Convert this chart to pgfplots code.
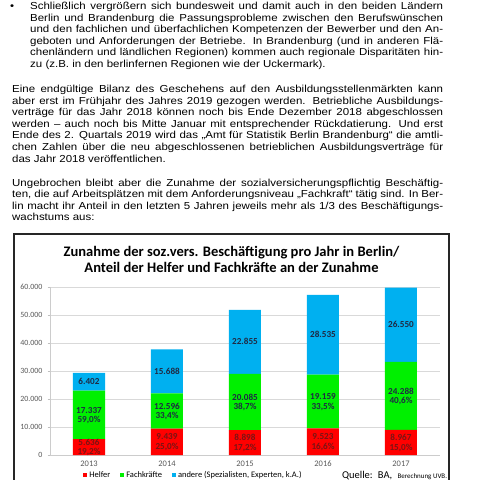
\documentclass[border=0pt]{standalone}
\usepackage{pgfplots}
\pgfplotsset{compat=1.18}
\usepackage{fontspec}
\setmainfont{Liberation Sans}[FakeStretch=1.13]
\newfontfamily\carl{Carlito}
\definecolor{cred}{HTML}{FF0000}
\definecolor{cgreen}{HTML}{00F000}
\definecolor{cblue}{HTML}{00B0F0}
\definecolor{labred}{HTML}{7A1414}
\definecolor{labdark}{HTML}{1F2A44}
\definecolor{tickgray}{HTML}{595959}
\tikzset{barlab/.style={font=\carl\bfseries\fontsize{9.2}{10.3}\selectfont, inner sep=0pt, anchor=center}}
\pgfplotsset{geom/.style={at={(50bp,-455bp)}, anchor=south west,
  scale only axis, width=390bp, height=168bp,
  xmin=-0.5, xmax=4.5, ymin=0, ymax=60000, clip=false}}
% justified line: x, baseline y, width, text
\newcommand\JL[4]{\node[anchor=base west,inner sep=0pt] at (#1bp,-#2bp) {\hbox to #3bp{#4}};}
\newcommand\LL[3]{\node[anchor=base west,inner sep=0pt] at (#1bp,-#2bp) {#3};}
\begin{document}
\begin{tikzpicture}
\path[use as bounding box] (0,0) rectangle (480bp,-480bp);
\clip (0,0) rectangle (480bp,-480bp);
\fill[white] (0,0) rectangle (480bp,-480bp);
\begin{scope}[every node/.style={font=\fontsize{10.2}{12}\selectfont}]
% bullet paragraph
\LL{10}{9.5}{•}
\JL{30}{9.5}{413}{Schließlich vergrößern sich bundesweit und damit auch in den beiden Ländern}
\JL{30}{21.1}{413}{Berlin und Brandenburg die Passungsprobleme zwischen den Berufswünschen}
\JL{30}{32.7}{413}{und den fachlichen und überfachlichen Kompetenzen der Bewerber und den An-}
\JL{30}{44.3}{413}{geboten und Anforderungen der Betriebe. In Brandenburg (und in anderen Flä-}
\JL{30}{55.9}{413}{chenländern und ländlichen Regionen) kommen auch regionale Disparitäten hin-}
\LL{30}{67.5}{zu (z.B. in den berlinfernen Regionen wie der Uckermark).}
% paragraph 2
\JL{12}{92.5}{431}{Eine endgültige Bilanz des Geschehens auf den Ausbildungsstellenmärkten kann}
\JL{12}{104.1}{431}{aber erst im Frühjahr des Jahres 2019 gezogen werden. Betriebliche Ausbildungs-}
\JL{12}{115.7}{431}{verträge für das Jahr 2018 können noch bis Ende Dezember 2018 abgeschlossen}
\JL{12}{127.3}{431}{werden – auch noch bis Mitte Januar mit entsprechender Rückdatierung. Und erst}
\JL{12}{138.9}{431}{Ende des 2. Quartals 2019 wird das „Amt für Statistik Berlin Brandenburg“ die amtli-}
\JL{12}{150.5}{431}{chen Zahlen über die neu abgeschlossenen betrieblichen Ausbildungsverträge für}
\LL{12}{162.1}{das Jahr 2018 veröffentlichen.}
% paragraph 3
\JL{12}{186}{431}{Ungebrochen bleibt aber die Zunahme der sozialversicherungspflichtig Beschäftig-}
\JL{12}{197.6}{431}{ten, die auf Arbeitsplätzen mit dem Anforderungsniveau „Fachkraft“ tätig sind. In Ber-}
\JL{12}{209.2}{431}{lin macht ihr Anteil in den letzten 5 Jahren jeweils mehr als 1/3 des Beschäftigungs-}
\LL{12}{220.8}{wachstums aus:}
\end{scope}
% chart frame
\draw[line width=1.2bp, black!85] (14bp,-234bp) rectangle (449bp,-520bp);
\node[anchor=base,inner sep=0pt,font=\carl\bfseries\fontsize{14.6}{16}\selectfont] at (231.5bp,-256.6bp) {Zunahme der soz.vers. Beschäftigung pro Jahr in Berlin/};
\node[anchor=base,inner sep=0pt,font=\carl\bfseries\fontsize{14.6}{16}\selectfont] at (231.5bp,-272.6bp) {Anteil der Helfer und Fachkräfte an der Zunahme};
\begin{axis}[
  geom,
  ybar stacked, bar width=32bp,
  xtick={0,1,2,3,4}, xticklabels={2013,2014,2015,2016,2017},
  extra x ticks={-0.5,0.5,1.5,2.5,3.5,4.5},
  extra x tick labels={},
  extra x tick style={major tick length=4bp, tick style={gray!50}},
  ytick={0,10000,20000,30000,40000,50000,60000},
  yticklabels={0,10.000,20.000,30.000,40.000,50.000,60.000},
  scaled y ticks=false,
  ymajorgrids, major grid style={gray!30, line width=0.6bp},
  axis lines*=left, axis line style={gray!40, line width=0.6bp},
  tick align=outside, major tick length=2.5bp,
  xtick style={draw=none},
  ytick style={gray!50},
  tick label style={font=\carl\fontsize{8.5}{10}\selectfont, text=tickgray},
  yticklabel style={font=\carl\fontsize{8}{9}\selectfont, xshift=-1.5bp},
  xticklabel style={yshift=0.5bp},
  legend style={at={(axis description cs:0.085,-0.118)}, anchor=west, draw=none, fill=none,
    font=\carl\fontsize{8.5}{9}\selectfont, legend columns=3, inner sep=0pt,
    /tikz/every even column/.append style={column sep=8bp}},
  legend image code/.code={\fill[#1] (0bp,-2bp) rectangle (4bp,2bp);},
]
\addplot[fill=cred, draw=none] coordinates {(0,5636) (1,9439) (2,8898) (3,9523) (4,8967)};
\addplot[fill=cgreen, draw=none] coordinates {(0,17337) (1,12596) (2,20085) (3,19159) (4,24288)};
\addplot[fill=cblue, draw=none] coordinates {(0,6402) (1,15688) (2,22855) (3,28535) (4,26550)};
\addlegendentry{Helfer}
\addlegendentry{Fachkräfte}
\addlegendentry{andere (Spezialisten, Experten, k.A.)}
\end{axis}
% overlay axis for segment labels (centred in each segment)
\begin{axis}[geom, hide axis]
\addplot[only marks, mark=none, point meta=explicit symbolic, nodes near coords,
  every node near coord/.append style={barlab, text=labred, yshift=4.8bp}] table[meta=lab] {
x y lab
0 2818 5.636
1 4720 9.439
2 4449 8.898
3 4762 9.523
4 4484 8.967
};
\addplot[only marks, mark=none, point meta=explicit symbolic, nodes near coords,
  every node near coord/.append style={barlab, text=labred, yshift=-5.2bp}] table[meta=lab] {
x y lab
0 2818 19,2\%
1 4720 25,0\%
2 4449 17,2\%
3 4762 16,6\%
4 4484 15,0\%
};
\addplot[only marks, mark=none, point meta=explicit symbolic, nodes near coords,
  every node near coord/.append style={barlab, text=labdark, yshift=4.8bp}] table[meta=lab] {
x y lab
0 14305 17.337
1 15737 12.596
2 18941 20.085
3 19103 19.159
4 21111 24.288
};
\addplot[only marks, mark=none, point meta=explicit symbolic, nodes near coords,
  every node near coord/.append style={barlab, text=labdark, yshift=-5.2bp}] table[meta=lab] {
x y lab
0 14305 59,0\%
1 15737 33,4\%
2 18941 38,7\%
3 19103 33,5\%
4 21111 40,6\%
};
\addplot[only marks, mark=none, point meta=explicit symbolic, nodes near coords,
  every node near coord/.append style={barlab, text=labdark}] table[meta=lab] {
x y lab
0 26174 6.402
1 29879 15.688
2 40411 22.855
3 42950 28.535
4 46530 26.550
};
\end{axis}
\node[anchor=base west,inner sep=0pt] at (342bp,-478bp) {\carl\fontsize{10.5}{12}\selectfont Quelle:\enspace BA,\enspace{\fontsize{7}{8}\selectfont Berechnung UVB.}};
\end{tikzpicture}
\end{document}
